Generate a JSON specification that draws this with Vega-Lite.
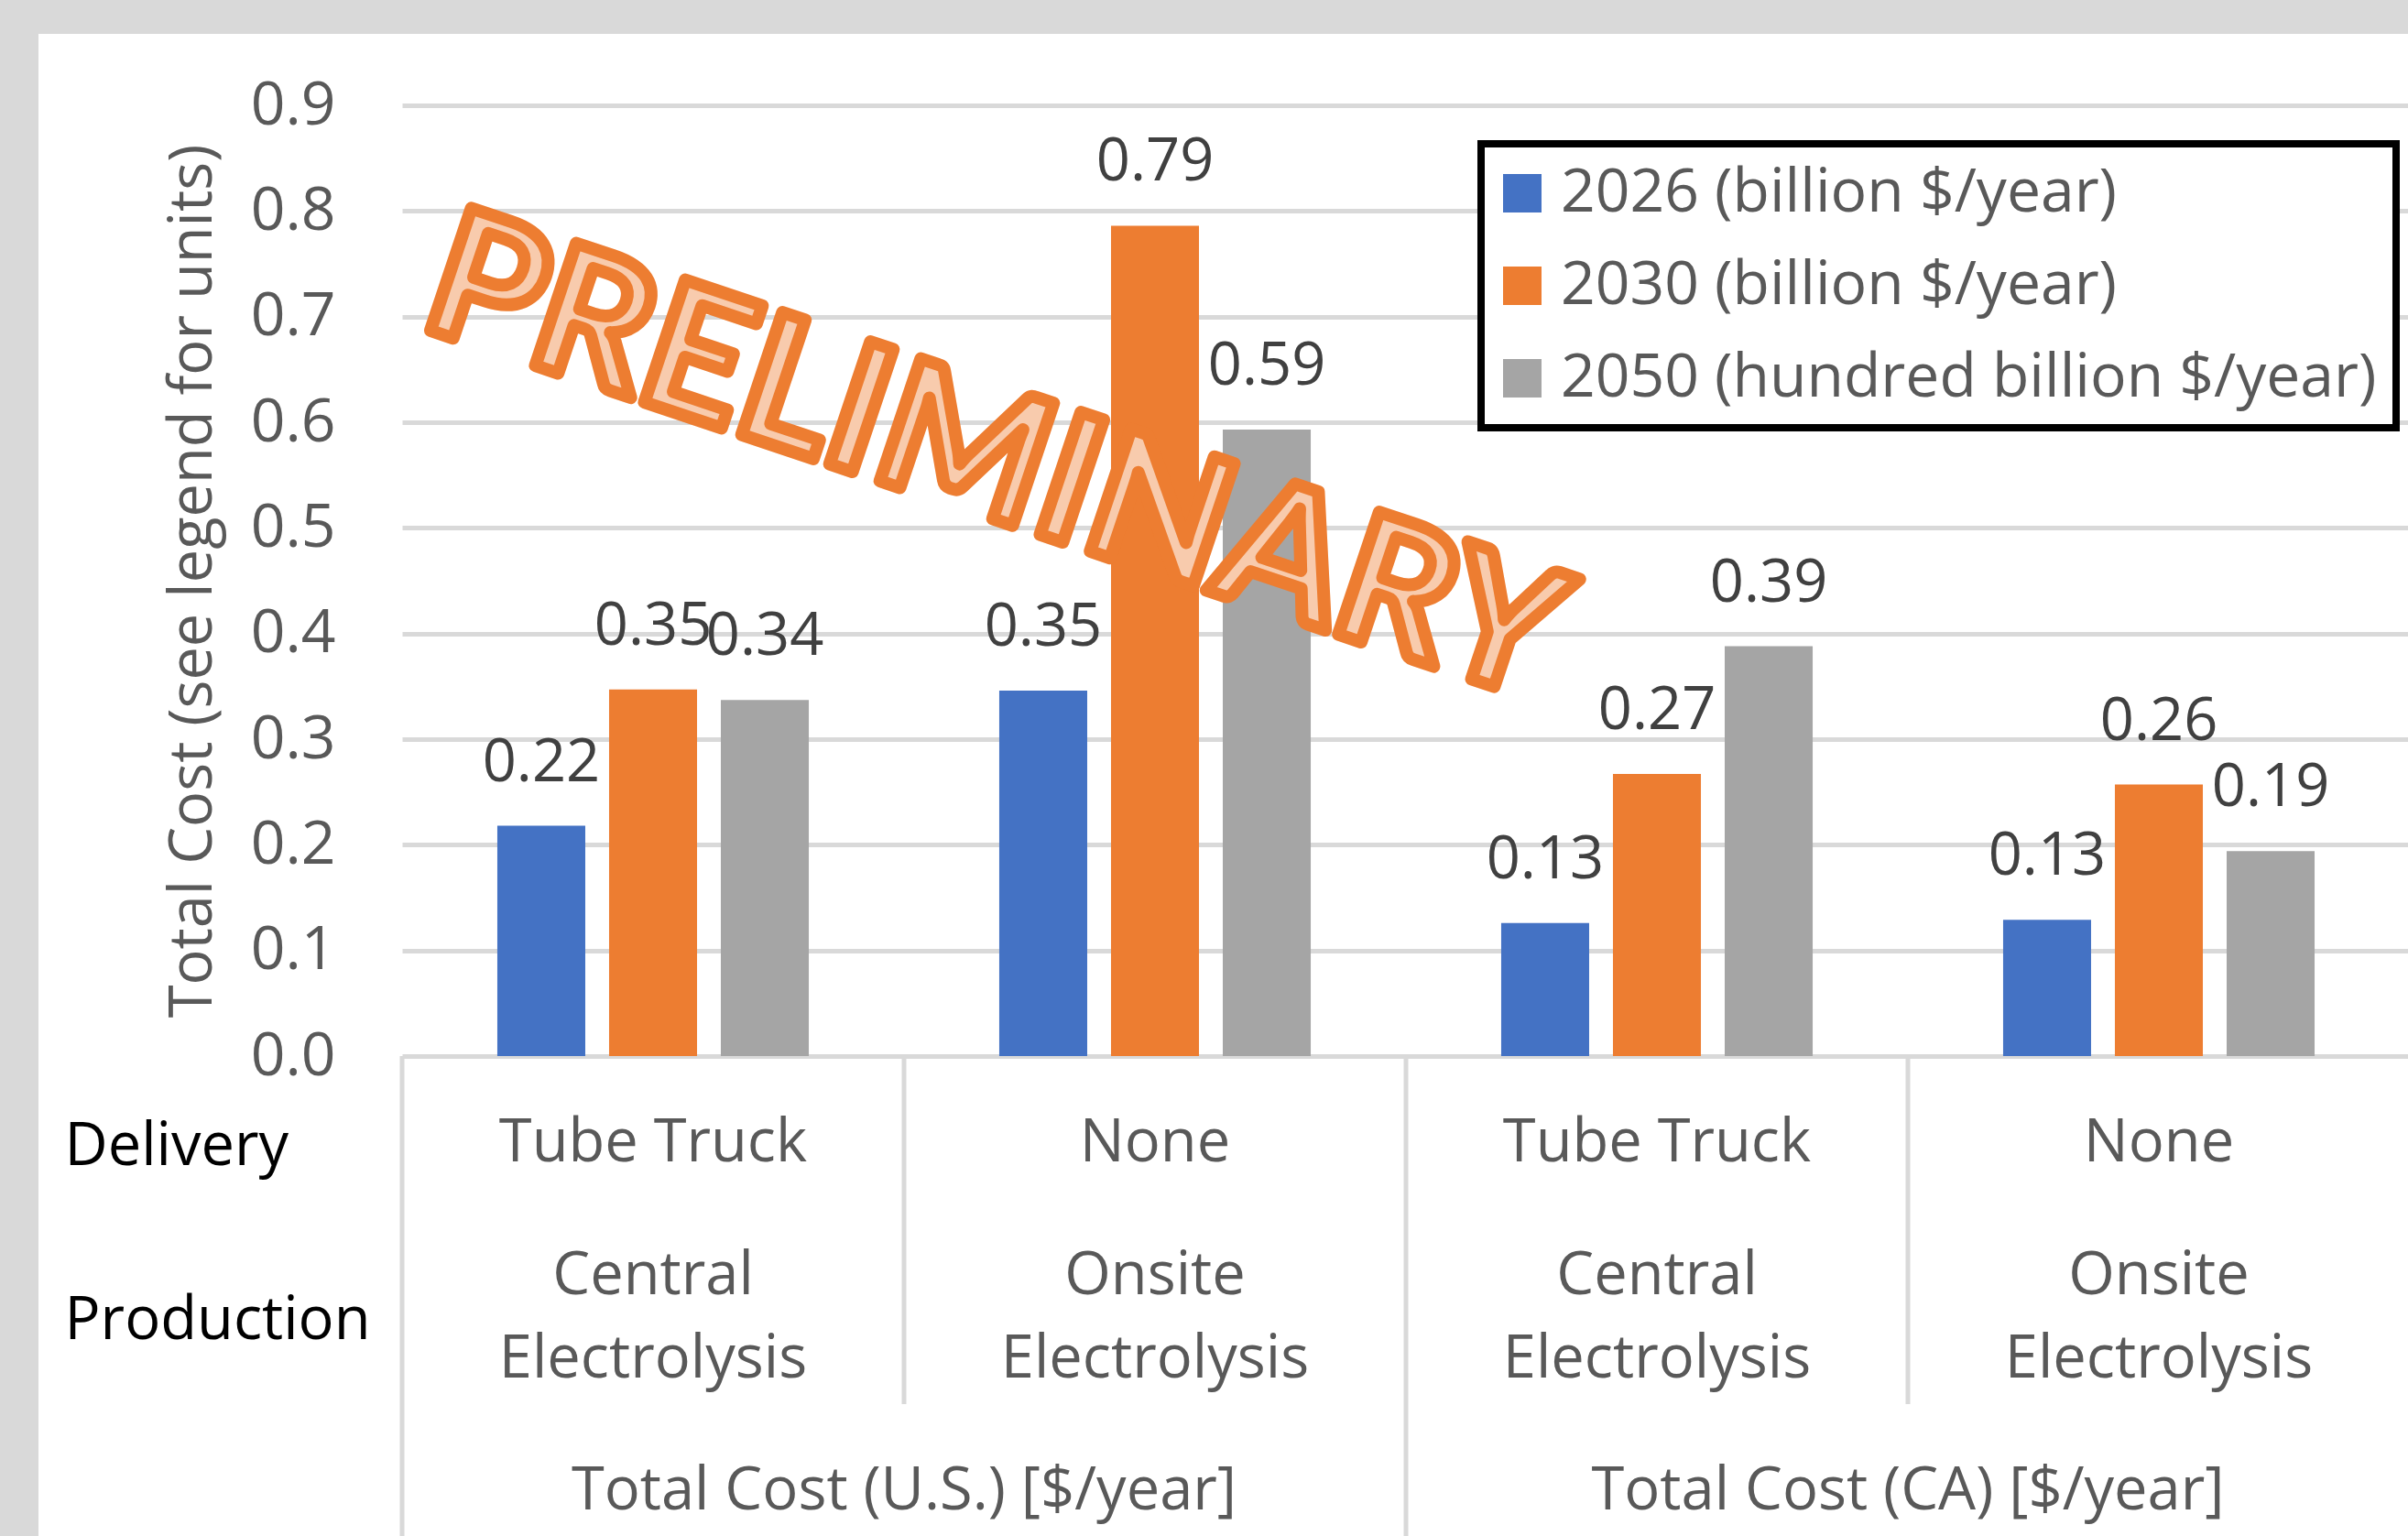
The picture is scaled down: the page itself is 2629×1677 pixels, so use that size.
{
  "$schema": "https://vega.github.io/schema/vega-lite/v6.json",
  "background": "white",
  "padding": 0,
  "bounds": "flush",
  "spacing": 0,
  "config": {
    "font": "Open Sans",
    "view": {"stroke": null}
  },
  "resolve": {"legend": {"color": "independent"}, "scale": {"color": "independent"}},
  "vconcat": [
    {
      "width": 2629,
      "height": 37,
      "data": {"values": []},
      "mark": "rect",
      "view": {"fill": "#d9d9d9", "stroke": null}
    },
    {
      "hconcat": [
        {
          "width": 42,
          "height": 1640,
          "data": {"values": []},
          "mark": "rect",
          "view": {"fill": "#d9d9d9", "stroke": null}
        },
        {
          "bounds": "flush",
          "spacing": 0,
          "resolve": {"legend": {"color": "independent"}, "scale": {"color": "independent"}},
          "vconcat": [
            {
              "width": 2192,
              "height": 78,
              "data": {"values": []},
              "mark": "rect"
            },
            {
              "width": 2192,
              "height": 1038,
              "data": {
                "values": [
                  {"group": "US-Tube", "series": "2026 (billion $/year)", "value": 0.218},
                  {"group": "US-Tube", "series": "2030 (billion $/year)", "value": 0.347},
                  {"group": "US-Tube", "series": "2050 (hundred billion $/year)", "value": 0.337},
                  {"group": "US-None", "series": "2026 (billion $/year)", "value": 0.346},
                  {"group": "US-None", "series": "2030 (billion $/year)", "value": 0.786},
                  {"group": "US-None", "series": "2050 (hundred billion $/year)", "value": 0.593},
                  {"group": "CA-Tube", "series": "2026 (billion $/year)", "value": 0.126},
                  {"group": "CA-Tube", "series": "2030 (billion $/year)", "value": 0.267},
                  {"group": "CA-Tube", "series": "2050 (hundred billion $/year)", "value": 0.388},
                  {"group": "CA-None", "series": "2026 (billion $/year)", "value": 0.129},
                  {"group": "CA-None", "series": "2030 (billion $/year)", "value": 0.257},
                  {"group": "CA-None", "series": "2050 (hundred billion $/year)", "value": 0.194}
                ]
              },
              "layer": [
                {
                  "mark": {"type": "bar"},
                  "encoding": {
                    "x": {"field": "group", "type": "nominal", "sort": null,
                      "scale": {"type": "band", "domain": ["US-Tube", "US-None", "CA-Tube", "CA-None"], "paddingInner": 0, "paddingOuter": 0},
                      "axis": null},
                    "xOffset": {"field": "series", "type": "nominal", "sort": null,
                      "scale": {"domain": ["2026 (billion $/year)", "2030 (billion $/year)", "2050 (hundred billion $/year)"], "paddingInner": 0.213, "paddingOuter": 0.852}},
                    "y": {"field": "value", "type": "quantitative",
                      "scale": {"domain": [0, 0.9], "nice": false},
                      "axis": {
                        "values": [0, 0.1, 0.2, 0.3, 0.4, 0.5, 0.6, 0.7, 0.8, 0.9],
                        "format": ".1f",
                        "labelFontSize": 66, "labelColor": "#595959", "labelPadding": 73,
                        "ticks": false, "domain": false,
                        "gridColor": "#d9d9d9", "gridWidth": 5,
                        "title": "Total Cost (see legend for units)",
                        "titleFontSize": 65, "titleFontWeight": "normal", "titleColor": "#595959", "titlePadding": 29
                      }},
                    "color": {"field": "series", "type": "nominal", "sort": null,
                      "scale": {"domain": ["2026 (billion $/year)", "2030 (billion $/year)", "2050 (hundred billion $/year)"], "range": ["#4472C4", "#ED7D31", "#A5A5A5"]},
                      "legend": {
                        "title": null, "orient": "none", "legendX": 1178, "legendY": 42,
                        "strokeColor": "black", "fillColor": "white",
                        "padding": 21, "symbolType": "square", "symbolSize": 1764, "symbolStrokeWidth": 0,
                        "symbolOffset": -9,
                        "labelFontSize": 66, "labelColor": "#595959", "labelOffset": 9, "labelLimit": 0,
                        "rowPadding": 35,
                        "encode": {"legend": {"update": {"strokeWidth": {"value": 8}}}}
                      }}
                  }
                },
                {
                  "mark": {"type": "text", "baseline": "alphabetic", "dy": -49, "fontSize": 65, "color": "#404040"},
                  "encoding": {
                    "x": {"field": "group", "type": "nominal", "sort": null},
                    "xOffset": {"field": "series", "type": "nominal", "sort": null},
                    "y": {"field": "value", "type": "quantitative"},
                    "text": {"field": "value", "type": "quantitative", "format": ".2f"}
                  }
                },
                {
                  "data": {"values": [{}]},
                  "mark": {"type": "text", "text": "PRELIMINARY", "angle": 18.5, "font": "Lato", "fontWeight": "bold", "fontSize": 195,
                    "fill": "#F8CBAD", "stroke": "#ED7D31", "strokeWidth": 14, "strokeJoin": "round", "align": "center", "baseline": "middle"},
                  "encoding": {
                    "x": {"datum": "US-None", "type": "nominal", "bandPosition": 0.18},
                    "y": {"datum": 0.562, "type": "quantitative"}
                  }
                }
              ]
            },
            {
              "width": 2192,
              "height": 570,
              "layer": [
                {
                  "data": {
                    "values": [
                      {"group": "US-Tube", "row": "Delivery", "label": "Tube Truck"},
                      {"group": "US-None", "row": "Delivery", "label": "None"},
                      {"group": "CA-Tube", "row": "Delivery", "label": "Tube Truck"},
                      {"group": "CA-None", "row": "Delivery", "label": "None"}
                    ]
                  },
                  "mark": {"type": "text", "fontSize": 65, "color": "#595959", "baseline": "middle"},
                  "encoding": {
                    "x": {"field": "group", "type": "nominal", "sort": null,
                      "scale": {"type": "band", "domain": ["US-Tube", "US-None", "CA-Tube", "CA-None"], "paddingInner": 0, "paddingOuter": 0},
                      "axis": null},
                    "y": {"field": "row", "type": "nominal", "sort": null,
                      "scale": {"type": "band", "domain": ["Delivery", "Production", "Region"], "paddingInner": 0, "paddingOuter": 0},
                      "axis": {"values": ["Delivery", "Production"], "labelAlign": "left", "labelPadding": 369, "labelColor": "black",
                        "labelFontSize": 65, "labelBaseline": "middle", "labelOffset": 4, "ticks": false, "domain": false, "grid": false, "title": null, "labelLimit": 0}},
                    "text": {"field": "label"}
                  }
                },
                {
                  "data": {
                    "values": [
                      {"group": "US-Tube", "row": "Production", "label": "Central\nElectrolysis"},
                      {"group": "US-None", "row": "Production", "label": "Onsite\nElectrolysis"},
                      {"group": "CA-Tube", "row": "Production", "label": "Central\nElectrolysis"},
                      {"group": "CA-None", "row": "Production", "label": "Onsite\nElectrolysis"}
                    ]
                  },
                  "mark": {"type": "text", "fontSize": 65, "color": "#595959", "lineBreak": "\n", "lineHeight": 91, "baseline": "middle", "dy": -45},
                  "encoding": {
                    "x": {"field": "group", "type": "nominal"},
                    "y": {"field": "row", "type": "nominal"},
                    "text": {"field": "label"}
                  }
                },
                {
                  "data": {
                    "values": [
                      {"group": "US-None", "row": "Region", "label": "Total Cost (U.S.) [$/year]"},
                      {"group": "CA-None", "row": "Region", "label": "Total Cost (CA) [$/year]"}
                    ]
                  },
                  "mark": {"type": "text", "fontSize": 65, "color": "#595959", "baseline": "middle"},
                  "encoding": {
                    "x": {"field": "group", "type": "nominal", "bandPosition": 0},
                    "y": {"field": "row", "type": "nominal"},
                    "text": {"field": "label"}
                  }
                },
                {
                  "data": {"values": [{"group": "US-Tube"}, {"group": "CA-Tube"}]},
                  "mark": {"type": "rule", "color": "#d9d9d9", "strokeWidth": 5},
                  "encoding": {
                    "x": {"field": "group", "type": "nominal", "bandPosition": 0},
                    "y": {"datum": "Delivery", "type": "nominal", "bandPosition": 0},
                    "y2": {"datum": "Region", "bandPosition": 1}
                  }
                },
                {
                  "data": {"values": [{"group": "US-None"}, {"group": "CA-None"}]},
                  "mark": {"type": "rule", "color": "#d9d9d9", "strokeWidth": 5},
                  "encoding": {
                    "x": {"field": "group", "type": "nominal", "bandPosition": 0},
                    "y": {"datum": "Delivery", "type": "nominal", "bandPosition": 0},
                    "y2": {"datum": "Production", "bandPosition": 1}
                  }
                }
              ]
            }
          ]
        }
      ],
      "bounds": "flush",
      "spacing": 397,
      "resolve": {"legend": {"color": "independent"}, "scale": {"color": "independent"}}
    }
  ]
}
